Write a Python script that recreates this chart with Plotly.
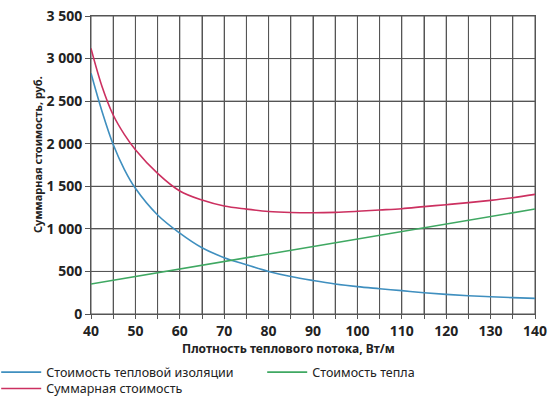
import plotly.graph_objects as go

x_insul = [40, 42.5, 45, 47.5, 50, 55, 60, 65, 70, 75, 80, 85, 90, 95, 100, 105, 110, 115, 120, 125, 130, 135, 140]
insulation = [2827, 2376, 1990, 1700, 1476, 1163, 950, 778, 662, 578, 500, 440, 393, 352, 321, 297, 274, 250, 231, 215, 203, 192, 184]

x_heat = [40, 60, 80, 100, 120, 140]
heat = [352, 527, 700, 880, 1053, 1233]

x_total = [40, 42.5, 45, 47.5, 50, 55, 60, 65, 70, 75, 80, 85, 90, 95, 100, 105, 110, 115, 120, 125, 130, 135, 140]
total = [3120, 2670, 2337, 2110, 1930, 1652, 1445, 1338, 1268, 1232, 1204, 1192, 1189, 1194, 1206, 1221, 1237, 1261, 1284, 1308, 1335, 1366, 1405]

x_grid = [40, 45, 50, 55, 60, 65, 70, 75, 80, 85, 90, 95, 100, 105, 110, 115, 120, 125, 130, 135, 140]
x_labels = ["40", "", "50", "", "60", "", "70", "", "80", "", "90", "", "100", "", "110", "", "120", "", "130", "", "140"]
y_ticks = [0, 500, 1000, 1500, 2000, 2500, 3000, 3500]
y_labels = ["0", "500", "1 000", "1 500", "2 000", "2 500", "3 000", "3 500"]

names = ["Стоимость тепловой изоляции", "Стоимость тепла", "Суммарная стоимость"]
colors = ["#3f8fbf", "#3fa862", "#cc3060"]

x_title = "Плотность теплового потока, Вт/м"
y_title = "Суммарная стоимость, руб."

FONT = "Noto Sans"
TXT = "#222"
grid = "#555555"

fig = go.Figure()
fig.add_trace(go.Scatter(x=x_insul, y=insulation, mode="lines", name=names[0], legend="legend",
                         line=dict(color=colors[0], width=1.6, shape="spline")))
fig.add_trace(go.Scatter(x=x_heat, y=heat, mode="lines", name=names[1], legend="legend",
                         line=dict(color=colors[1], width=1.6)))
fig.add_trace(go.Scatter(x=x_total, y=total, mode="lines", name=names[2], legend="legend2",
                         line=dict(color=colors[2], width=1.6, shape="spline")))

# grid lines from the tick arrays
shapes = []
for v in x_grid:
    shapes.append(dict(type="line", xref="x", yref="y domain", x0=v, x1=v, y0=0, y1=1,
                       line=dict(color=grid, width=1), layer="below"))
for v in y_ticks:
    shapes.append(dict(type="line", xref="x domain", yref="y", x0=0, x1=1, y0=v, y1=v,
                       line=dict(color=grid, width=1), layer="below"))

leg_common = dict(orientation="h", xanchor="left", yanchor="top", itemwidth=40,
                  font=dict(size=12.5, color=TXT, family=FONT), tracegroupgap=0,
                  bgcolor="rgba(0,0,0,0)", borderwidth=0)

fig.update_layout(
    template="none",
    width=550, height=397,
    margin=dict(l=91, r=15, t=16, b=83, autoexpand=False),
    paper_bgcolor="white", plot_bgcolor="white",
    font=dict(family=FONT, color=TXT),
    showlegend=True,
    legend=dict(x=-0.2135, y=-0.146, entrywidth=211, entrywidthmode="pixels", **leg_common),
    legend2=dict(x=-0.2135, y=-0.201, **leg_common),
    shapes=shapes,
    xaxis=dict(range=[40, 140], tickmode="array", tickvals=x_grid, ticktext=x_labels,
               showgrid=True, gridcolor=grid, gridwidth=1,
               ticks="outside", ticklen=4, tickcolor=grid,
               showline=True, linecolor=grid, linewidth=1, mirror=True,
               tickfont=dict(size=14, color=TXT, family=FONT, weight="bold"),
               ticklabeloverflow="allow",
               zeroline=False, automargin=False),
    yaxis=dict(range=[0, 3500], tickmode="array", tickvals=y_ticks, ticktext=y_labels,
               showgrid=True, gridcolor=grid, gridwidth=1,
               ticks="outside", ticklen=5, tickcolor=grid,
               showline=True, linecolor=grid, linewidth=1, mirror=True,
               tickfont=dict(size=14, color=TXT, family=FONT, weight="bold"),
               ticklabeloverflow="allow",
               zeroline=False, automargin=False),
    annotations=[
        dict(text=x_title, xref="paper", yref="paper", x=(288 - 91) / 444, y=-(348 - 314) / 298,
             xanchor="center", yanchor="middle", showarrow=False,
             font=dict(size=12, color=TXT, family=FONT, weight="bold")),
        dict(text=y_title, xref="paper", yref="paper", x=-(91 - 37) / 444, y=(314 - 155) / 298,
             xanchor="center", yanchor="middle", showarrow=False, textangle=-90,
             font=dict(size=11, color=TXT, family=FONT, weight="bold")),
    ],
)

fig.write_html("out.html", config={"displayModeBar": False},
               post_script="document.body.style.margin='0';document.body.style.overflow='hidden';")
